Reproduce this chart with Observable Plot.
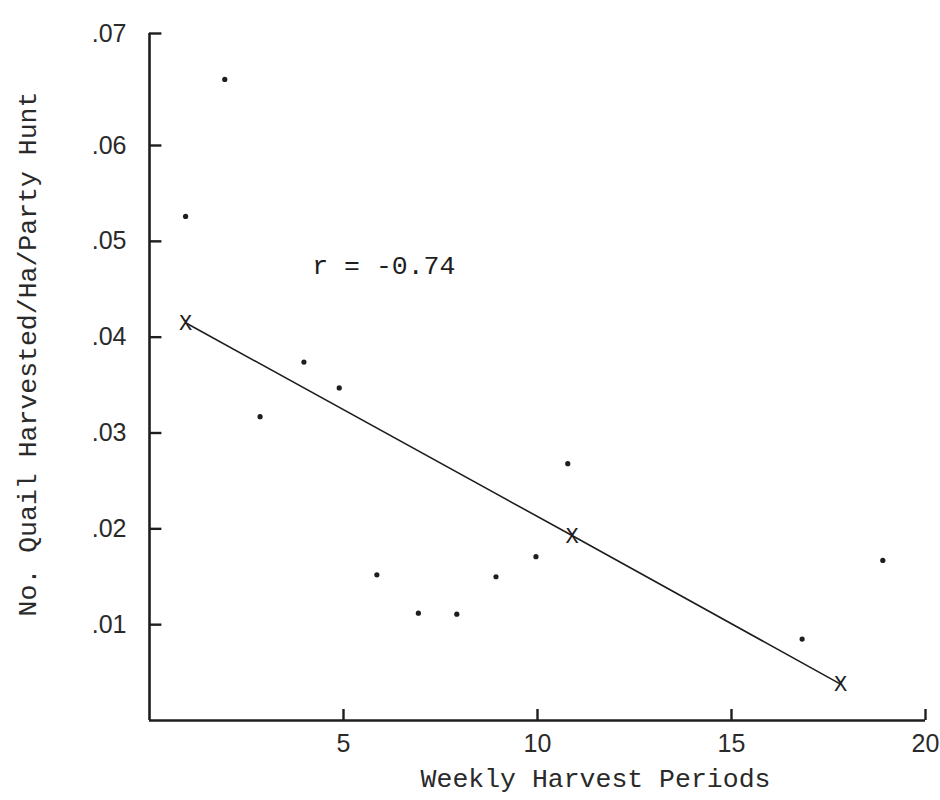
<!DOCTYPE html>
<html>
<head>
<meta charset="utf-8">
<script src="https://cdn.jsdelivr.net/npm/d3@7"></script>
<script src="https://cdn.jsdelivr.net/npm/@observablehq/plot@0.6"></script>
<style>
  body { margin: 0; background: #fff; }
  #chart svg { display: block; }
</style>
</head>
<body>
<div id="chart"></div>
<script>
// Observed points: weekly harvest period vs quail harvested / ha / party hunt
const weeks   = [0.93, 1.94, 2.85, 3.98, 4.89, 5.86, 6.93, 7.92, 8.93, 9.96, 10.78, 16.82, 18.9];
const harvest = [0.0526, 0.0659, 0.0317, 0.0374, 0.0347, 0.0152, 0.0112, 0.0111, 0.0150, 0.0171, 0.0268, 0.0085, 0.0167];

// Regression line anchor points (marked with X)
const fitWeeks   = [0.93, 10.89, 17.81];
const fitHarvest = [0.0415, 0.0193, 0.0038];

// Axis ticks
const xTicks = [5, 10, 15, 20];
const yTicks = [0.01, 0.02, 0.03, 0.04, 0.05, 0.06, 0.07];

// Texts
const xTitle = "Weekly Harvest Periods";
const yTitle = "No. Quail Harvested/Ha/Party Hunt";
const rText = ["r = -0.74"];
const rWeek = [6.04];
const rHarvest = [0.0475];

const points = weeks.map((w, i) => ({week: w, harvest: harvest[i]}));
const fit = fitWeeks.map((w, i) => ({week: w, harvest: fitHarvest[i]}));
const annot = rText.map((t, i) => ({week: rWeek[i], harvest: rHarvest[i], text: t}));

const ink = "#1e1e1e";
const mono = "'Liberation Mono', 'DejaVu Sans Mono', monospace";
const sans = "'Liberation Sans', Arial, sans-serif";

// The hand-drawn y axis has a slightly taller top interval (.06 to .07)
const topStretch = 1.1687;
const yWarp = v => (v <= 0.06 ? v : 0.06 + (v - 0.06) * topStretch);

const chart = Plot.plot({
  width: 940,
  height: 800,
  marginLeft: 149,
  marginRight: 15,
  marginTop: 33,
  marginBottom: 80,
  x: {domain: [0, 20]},
  y: {transform: yWarp, domain: [0, yWarp(0.07)]},
  style: {background: "#fff", color: ink},
  marks: [
    Plot.axisX(xTicks, {tickSize: 0, tickPadding: 14, fontSize: 25, fontFamily: sans, fill: "#2a2a2a", label: null}),
    Plot.axisY(yTicks, {tickSize: 0, tickPadding: 23, fontSize: 25, fontFamily: sans, fill: "#2a2a2a",
      tickFormat: d => d.toFixed(2).replace(/^0/, ""), label: null}),
    Plot.ruleX(xTicks, {y1: 0, y2: 0.00115, stroke: ink, strokeWidth: 2.4}),
    Plot.ruleY(yTicks, {x1: 0, x2: 0.32, stroke: ink, strokeWidth: 2.4}),
    Plot.ruleY([0], {x1: 0, x2: 20, stroke: ink, strokeWidth: 2.6}),
    Plot.ruleX([0], {y1: 0, y2: 0.07, stroke: ink, strokeWidth: 2.6}),
    Plot.line(fit, {x: "week", y: "harvest", stroke: ink, strokeWidth: 1.6}),
    Plot.text(fit, {x: "week", y: "harvest", text: () => "X", fontSize: 22, fontFamily: mono, fill: ink}),
    Plot.dot(points, {x: "week", y: "harvest", r: 2.6, fill: ink, stroke: null}),
    Plot.text(annot, {x: "week", y: "harvest", text: "text", fontSize: 26.5, fontFamily: mono, fill: ink}),
    Plot.text([xTitle], {frameAnchor: "bottom", textAnchor: "middle", text: d => d, dx: 58, dy: 66, fontSize: 26.5, fontFamily: mono, fill: "#2a2a2a"}),
    Plot.text([yTitle], {frameAnchor: "left", textAnchor: "middle", text: d => d, rotate: -90, dx: -122, dy: -23, fontSize: 26.5, fontFamily: mono, fill: "#2a2a2a"})
  ]
});

document.getElementById("chart").appendChild(chart);
</script>
</body>
</html>
